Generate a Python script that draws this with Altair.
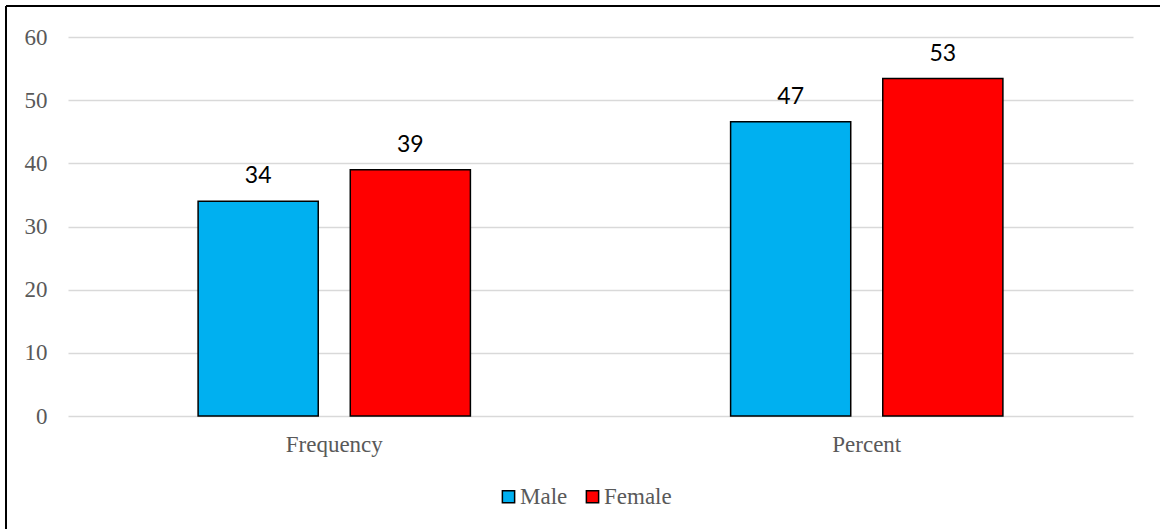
import altair as alt
import pandas as pd

# Survey respondents by gender, as a count and as a share of the total
categories = ["Frequency", "Percent"]
male = [34, 46.58]
female = [39, 53.42]
genders = ["Male", "Female"]
gender_colors = ["#00b0f0", "#ff0000"]
y_ticks = [0, 10, 20, 30, 40, 50, 60]

rows = []
for i, cat in enumerate(categories):
    rows.append({"category": cat, "gender": "Male", "value": male[i]})
    rows.append({"category": cat, "gender": "Female", "value": female[i]})
df = pd.DataFrame(rows)

serif = "Liberation Serif"
sans = "Lato"
axis_size = 23

x_enc = alt.X(
    "category:N",
    sort=categories,
    title=None,
    scale=alt.Scale(paddingInner=0, paddingOuter=0),
    axis=alt.Axis(
        labelAngle=0,
        labelFont=serif,
        labelFontSize=axis_size,
        labelColor="#595959",
        labelPadding=17,
        domain=False,
        ticks=False,
    ),
)
offset_enc = alt.XOffset(
    "gender:N",
    sort=genders,
    scale=alt.Scale(paddingInner=0.2105, paddingOuter=0.855),
)
y_enc = alt.Y(
    "value:Q",
    title=None,
    scale=alt.Scale(domain=[0, 60], nice=False),
    axis=alt.Axis(
        values=y_ticks,
        labelFont=serif,
        labelFontSize=axis_size,
        labelColor="#595959",
        labelPadding=21,
        domain=False,
        ticks=False,
        grid=True,
        gridColor="#d9d9d9",
        gridWidth=1.5,
    ),
)

bars = alt.Chart(df).mark_bar(stroke="black", strokeWidth=1.5).encode(
    x=x_enc,
    xOffset=offset_enc,
    y=y_enc,
    color=alt.Color(
        "gender:N",
        sort=genders,
        scale=alt.Scale(domain=genders, range=gender_colors),
        legend=alt.Legend(
            title=None,
            orient="none",
            direction="horizontal",
            legendX=429,
            legendY=448,
            symbolType="square",
            symbolSize=150,
            symbolStrokeColor="black",
            symbolStrokeWidth=1.5,
            labelFont=serif,
            labelFontSize=axis_size,
            labelColor="#595959",
            labelOffset=0,
            columnPadding=13,
        ),
    ),
)

labels = alt.Chart(df).mark_text(
    font=sans, fontSize=23, color="black", baseline="alphabetic", dy=-18
).encode(
    x=alt.X("category:N", sort=categories),
    xOffset=alt.XOffset("gender:N", sort=genders),
    y="value:Q",
    text=alt.Text("value:Q", format=".0f"),
)

# Frame lines along the left and top edges of the figure
frame_df = pd.DataFrame({"k": [0]})
left_edge = alt.Chart(frame_df).mark_rule(color="black", strokeWidth=2).encode(
    x=alt.value(-62), y=alt.value(-31), y2=alt.value(500)
)
top_edge = alt.Chart(frame_df).mark_rule(color="black", strokeWidth=2).encode(
    x=alt.value(-62), x2=alt.value(1100), y=alt.value(-31)
)

chart = (
    alt.layer(bars, labels, left_edge, top_edge)
    .properties(
        width=1065,
        height=379,
        autosize=alt.AutoSizeParams(type="none"),
        padding={"left": 68, "top": 37, "right": 27, "bottom": 113},
        background="white",
    )
    .configure_view(stroke=None)
)

chart.save("out.html", embed_options={"renderer": "svg", "actions": False})
